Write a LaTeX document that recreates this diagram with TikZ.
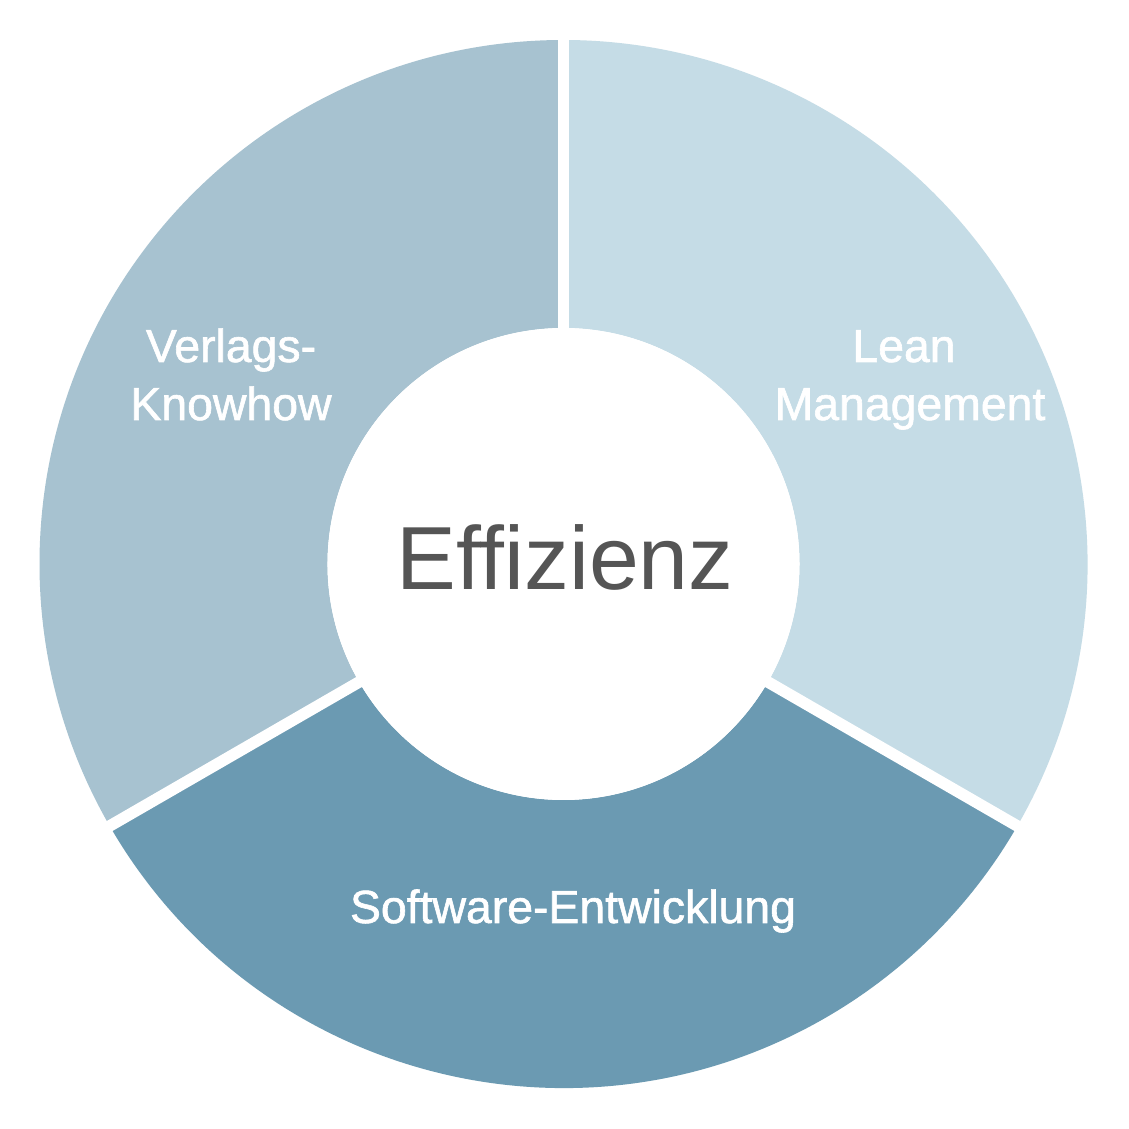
\documentclass[tikz,border=0pt]{standalone}
\usepackage{fontspec}
\usetikzlibrary{calc}
\setmainfont[Ligatures=NoCommon]{Liberation Sans}
\newfontfamily\labelfont[FakeBold=1.3]{Liberation Sans}
\definecolor{segleft}{HTML}{A7C2D0}
\definecolor{segright}{HTML}{C5DCE6}
\definecolor{segbottom}{HTML}{6B9AB2}
\definecolor{centertext}{HTML}{555555}
\begin{document}
\begin{tikzpicture}[x=0.02cm,y=0.02cm,
  seglabel/.style={text=white, font=\labelfont\fontsize{26.4}{30}\selectfont, anchor=base, inner sep=0pt},
  gapline/.style={white, line width=0.23cm}]
\useasboundingbox (0,0) rectangle (1129,1129);
\fill[white] (0,0) rectangle (1129,1129);
\coordinate (c) at (563.5,565);
\begin{scope}[shift={(563.5,565)}]
  \fill[segright] (-30:524) arc[start angle=-30,end angle=90,radius=524] -- (90:236) arc[start angle=90,end angle=-30,radius=236] -- cycle;
  \fill[segleft] (90:524) arc[start angle=90,end angle=210,radius=524] -- (210:236) arc[start angle=210,end angle=90,radius=236] -- cycle;
  \fill[segbottom] (210:524) arc[start angle=210,end angle=330,radius=524] -- (330:236) arc[start angle=330,end angle=210,radius=236] -- cycle;
\end{scope}
\coordinate (g1) at ($(c)+(90:540)$);
\coordinate (g2) at ($(c)+(210:540)$);
\coordinate (g3) at ($(c)+(330:540)$);
\draw[gapline] (c) -- (g1);
\draw[gapline] (c) -- (g2);
\draw[gapline] (c) -- (g3);
\node[circle, fill=white, minimum size=472*0.02cm, inner sep=0pt] (hub) at (c) {};
\node[anchor=base, inner sep=0pt, text=centertext, font=\fontsize{51}{60}\selectfont] (eff) at (565,539) {Effizienz};
\node[seglabel] (sw) at (573,206) {Software-Entwicklung};
\node[seglabel] (lean1) at (904,767) {Lean};
\node[seglabel] (lean2) at (910,709) {Management};
\node[seglabel] (verl1) at (231,767) {Verlags-};
\node[seglabel] (verl2) at (231,709) {Knowhow};
\end{tikzpicture}
\end{document}
